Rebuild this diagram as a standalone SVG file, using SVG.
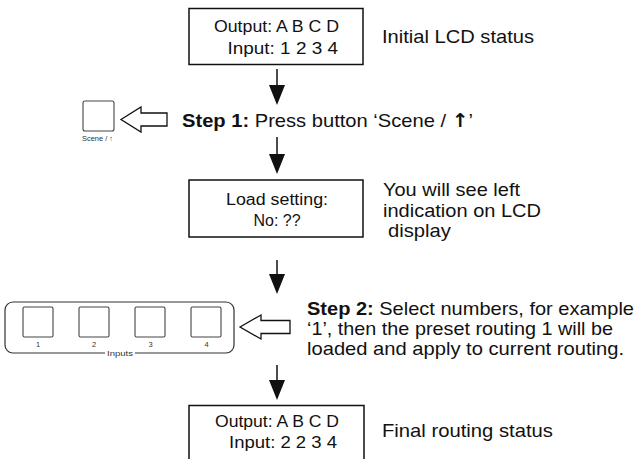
<svg xmlns="http://www.w3.org/2000/svg" width="640" height="459" viewBox="0 0 640 459">
<style>
  text { font-family: "Liberation Sans", Arial, sans-serif; fill: #111; }
  .lcd { stroke: #111; stroke-width: 1.5; fill: #fff; }
  .lcdt { font-size: 16px; }
  .body { font-size: 19px; }
  .b { font-weight: bold; }
  .arr { font-family: "DejaVu Sans", sans-serif; font-weight: bold; }
  .btn { stroke: #444; stroke-width: 1.1; fill: #fff; }
  .small { font-size: 7.5px; fill: #333; }
  .flow { stroke: #111; stroke-width: 1.5; fill: none; marker-end: url(#head); }
  .hollow { stroke: #111; stroke-width: 1.3; fill: #fff; stroke-linejoin: miter; }
</style>
<defs>
  <marker id="head" markerUnits="userSpaceOnUse" markerWidth="20" markerHeight="16" viewBox="0 -8 20 16" refX="0" refY="0" orient="auto">
    <path d="M0,-8 L20,0 L0,8 Z" fill="#111"/>
  </marker>
</defs>
<rect width="640" height="459" fill="#fff"/>

<g id="connectors">
  <line class="flow" x1="277" y1="69" x2="277" y2="85"/>
  <line class="flow" x1="277" y1="137" x2="277" y2="154"/>
  <line class="flow" x1="277" y1="260" x2="277" y2="274"/>
  <line class="flow" x1="277" y1="365" x2="277" y2="380"/>
  <polygon class="hollow" points="121,119.5 141,107 141,113 167,113 167,126 141,126 141,132"/>
  <polygon class="hollow" points="240,327 261,315 261,320.5 290,320.5 290,333.5 261,333.5 261,339"/>
</g>

<g id="initial-lcd">
  <rect class="lcd" x="189" y="8.5" width="174" height="56"/>
  <text class="lcdt" x="214" y="32" textLength="125" lengthAdjust="spacingAndGlyphs">Output: A B C D</text>
  <text class="lcdt" x="227.5" y="54" textLength="110.5" lengthAdjust="spacingAndGlyphs">Input: 1 2 3 4</text>
  <text class="body" x="382" y="42.5" textLength="152" lengthAdjust="spacingAndGlyphs">Initial LCD status</text>
</g>

<g id="step1">
  <rect class="btn" x="83" y="101" width="31" height="30" rx="2"/>
  <text class="small" x="82" y="141" textLength="31" lengthAdjust="spacingAndGlyphs">Scene / ↑</text>
  <text class="body" x="182" y="127" textLength="291" lengthAdjust="spacingAndGlyphs"><tspan class="b">Step 1:</tspan> Press button ‘Scene / <tspan class="arr">↑</tspan>’</text>
</g>

<g id="load-lcd">
  <rect class="lcd" x="189" y="180" width="174" height="57"/>
  <text class="lcdt" x="277" y="205" text-anchor="middle" textLength="102" lengthAdjust="spacingAndGlyphs">Load setting:</text>
  <text class="lcdt" x="277" y="226" text-anchor="middle" textLength="47" lengthAdjust="spacingAndGlyphs">No: ??</text>
  <text class="body" x="383" y="196" textLength="137" lengthAdjust="spacingAndGlyphs">You will see left</text>
  <text class="body" x="383" y="216.5" textLength="158" lengthAdjust="spacingAndGlyphs">indication on LCD</text>
  <text class="body" x="388" y="237" textLength="63" lengthAdjust="spacingAndGlyphs">display</text>
</g>

<g id="step2">
  <path d="M135,353 L226,353 A8,8 0 0 0 234,345 L234,310 A8,8 0 0 0 226,302 L13,302 A8,8 0 0 0 5,310 L5,345 A8,8 0 0 0 13,353 L105,353" fill="none" stroke="#333" stroke-width="1.2"/>
  <rect class="btn" x="23" y="307" width="30" height="30" rx="1.5"/>
  <rect class="btn" x="79" y="307" width="30" height="30" rx="1.5"/>
  <rect class="btn" x="135" y="307" width="30" height="30" rx="1.5"/>
  <rect class="btn" x="191" y="307" width="30" height="30" rx="1.5"/>
  <text class="small" x="38" y="347" text-anchor="middle">1</text>
  <text class="small" x="94" y="347" text-anchor="middle">2</text>
  <text class="small" x="150.5" y="347" text-anchor="middle">3</text>
  <text class="small" x="206.5" y="347" text-anchor="middle">4</text>
  <text class="small" x="120" y="355.5" text-anchor="middle" textLength="26" lengthAdjust="spacingAndGlyphs">Inputs</text>
  <text class="body" x="307" y="315" textLength="327" lengthAdjust="spacingAndGlyphs"><tspan class="b">Step 2:</tspan> Select numbers, for example</text>
  <text class="body" x="307" y="335" textLength="306" lengthAdjust="spacingAndGlyphs">‘1’, then the preset routing 1 will be</text>
  <text class="body" x="307" y="355" textLength="317" lengthAdjust="spacingAndGlyphs">loaded and apply to current routing.</text>
</g>

<g id="final-lcd">
  <rect class="lcd" x="189" y="405.5" width="175" height="64"/>
  <text class="lcdt" x="215" y="427" textLength="124" lengthAdjust="spacingAndGlyphs">Output: A B C D</text>
  <text class="lcdt" x="229" y="448" textLength="108" lengthAdjust="spacingAndGlyphs">Input: 2 2 3 4</text>
  <text class="body" x="382" y="437" textLength="171" lengthAdjust="spacingAndGlyphs">Final routing status</text>
</g>
</svg>
